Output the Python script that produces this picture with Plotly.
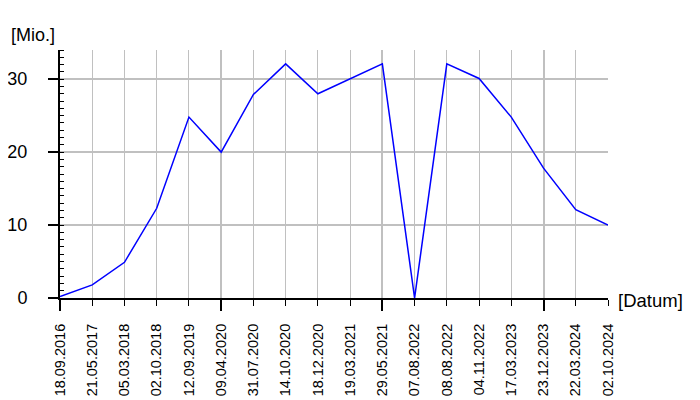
import plotly.graph_objects as go

dates = ["18.09.2016", "21.05.2017", "05.03.2018", "02.10.2018", "12.09.2019",
         "09.04.2020", "31.07.2020", "14.10.2020", "18.12.2020", "19.03.2021",
         "29.05.2021", "07.08.2022", "08.08.2022", "04.11.2022", "17.03.2023",
         "23.12.2023", "22.03.2024", "02.10.2024"]
values = [0.2, 1.8, 4.9, 12.3, 24.8, 20.0, 27.9, 32.1, 28.0, 30.0,
          32.1, 0.0, 32.1, 30.1, 24.8, 17.8, 12.1, 10.0]
major_idx = [0, 5, 10, 15]
y_title = "[Mio.]"
x_title = "[Datum]"

idx = list(range(len(dates)))
FONT = "Liberation Sans, Arial, sans-serif"
GRID = "#c0c0c0"

fig = go.Figure()
fig.add_trace(go.Scatter(x=idx, y=values, mode="lines",
                         line=dict(color="#0000ff", width=1.5),
                         hoverinfo="skip", showlegend=False))
# invisible helper trace so the overlay axis (major ticks) is drawn
fig.add_trace(go.Scatter(x=idx, y=values, mode="lines", xaxis="x2",
                         line=dict(width=0), opacity=0,
                         hoverinfo="skip", showlegend=False))

fig.update_layout(
    width=700, height=400,
    margin=dict(l=52, r=100, t=42, b=110),
    paper_bgcolor="white", plot_bgcolor="white",
    font=dict(family=FONT, color="black"),
    xaxis=dict(
        range=[0, len(dates) - 1], tickmode="array", tickvals=idx, ticktext=dates,
        tickangle=-90, ticks="outside", ticklen=6, tickwidth=1, tickcolor="black",
        showgrid=True, gridcolor=GRID, gridwidth=1,
        showline=True, linecolor="black", linewidth=2, zeroline=False,
        tickfont=dict(size=14.5, family=FONT, color="black"),
        ticklabelstandoff=12, automargin=False,
    ),
    xaxis2=dict(
        range=[0, len(dates) - 1], overlaying="x", anchor="y", side="bottom",
        tickmode="array", tickvals=major_idx, showticklabels=False,
        ticks="outside", ticklen=12, tickwidth=2, tickcolor="black",
        showgrid=True, gridcolor=GRID, gridwidth=2,
        showline=False, zeroline=False, automargin=False,
    ),
    yaxis=dict(
        range=[0, 34], tickmode="linear", tick0=0, dtick=10,
        ticks="outside", ticklen=10, tickwidth=2, tickcolor="black",
        showgrid=True, gridcolor=GRID, gridwidth=2,
        showline=True, linecolor="black", linewidth=2, zeroline=False,
        tickfont=dict(size=18, family=FONT, color="black"),
        ticklabelstandoff=17, automargin=False,
        minor=dict(tickmode="linear", tick0=0, dtick=1, ticks="inside",
                   ticklen=4, tickwidth=1, tickcolor="black", showgrid=False),
    ),
    annotations=[
        dict(text=y_title, xref="paper", yref="paper", x=0, y=1,
             xanchor="left", yanchor="middle", xshift=-51, yshift=15,
             showarrow=False, font=dict(size=18, family=FONT, color="black")),
        dict(text=x_title, xref="paper", yref="paper", x=1, y=0,
             xanchor="left", yanchor="middle", xshift=8, yshift=-2,
             showarrow=False, font=dict(size=18.5, family=FONT, color="black")),
    ],
)

fig.write_html("out.html")
